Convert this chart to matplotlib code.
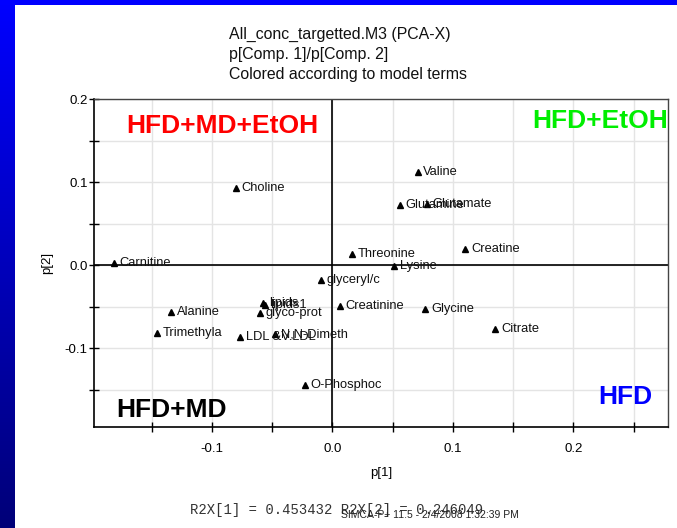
import numpy as np
import matplotlib
matplotlib.use("Agg")
import matplotlib.pyplot as plt

plt.rcParams['font.family'] = ['Liberation Sans', 'DejaVu Sans']

# ---- data ----
names = ["Carnitine", "Choline", "Valine", "Glutamine", "Glutamate", "Creatine",
         "Threonine", "Lysine", "glyceryl/c", "lipids", "lipids1", "glyco-prot",
         "Alanine", "Trimethyla", "LDL &V.LDL", "N,N-Dimeth", "O-Phosphoc",
         "Creatinine", "Glycine", "Citrate"]
p1 = [-0.1817, -0.0799, 0.0709, 0.0562, 0.0783, 0.1104,
      0.0161, 0.0512, -0.0094, -0.0573, -0.0563, -0.0600,
      -0.1341, -0.1457, -0.0768, -0.0476, -0.0227,
      0.0064, 0.0772, 0.1353]
p2 = [0.0024, 0.0935, 0.1124, 0.0727, 0.0742, 0.0200,
      0.0133, -0.0005, -0.0181, -0.0460, -0.0484, -0.0575,
      -0.0563, -0.0819, -0.0867, -0.0831, -0.1446,
      -0.0490, -0.0530, -0.0767]
major_ticks = [-0.1, 0.0, 0.1, 0.2]
title_lines = ["All_conc_targetted.M3 (PCA-X)", "p[Comp. 1]/p[Comp. 2]",
               "Colored according to model terms"]
groups = ["HFD+MD+EtOH", "HFD+EtOH", "HFD+MD", "HFD"]
group_colors = ["#ff0000", "#00ee00", "#000000", "#0000ff"]

W, H = 677, 528
fig = plt.figure(figsize=(W / 100, H / 100), dpi=100)
fig.patch.set_facecolor("white")

# blue frame: left gradient strip and top strip
bax = fig.add_axes([0, 0, 15 / W, 1])
grad = np.linspace(0, 1, 256).reshape(-1, 1)
cmap = matplotlib.colors.LinearSegmentedColormap.from_list("b", ["#0000ff", "#000078"])
bax.imshow(grad, aspect="auto", cmap=cmap, extent=[0, 1, 1, 0])
bax.set_axis_off()
tax = fig.add_axes([0, 1 - 5 / H, 1, 5 / H])
tax.set_facecolor("#0000ff")
tax.set_xticks([]); tax.set_yticks([])
for s in tax.spines.values():
    s.set_visible(False)

# main axes
L, R, T, B = 94, 668, 99, 427
ax = fig.add_axes([L / W, 1 - B / H, (R - L) / W, (B - T) / H])
ax.set_xlim(-0.198, 0.2786)
ax.set_ylim(-0.1946, 0.2)

ax.set_xticks(major_ticks)
ax.set_xticklabels([f"{v:.1f}" for v in major_ticks])
ax.set_yticks(major_ticks)
ax.set_yticklabels([f"{v:.1f}" for v in major_ticks])
ax.set_xticks([-0.15, -0.05, 0.05, 0.15, 0.25], minor=True)
ax.set_yticks([-0.15, -0.05, 0.05, 0.15], minor=True)
ax.tick_params(which="both", direction="inout", length=7, width=1, labelsize=9.5,
               top=False, right=False, color="black")
ax.tick_params(axis="x", pad=8)
ax.tick_params(axis="y", pad=1)
ax.grid(True, which="both", color="#e4e4e4", linewidth=1)
ax.set_axisbelow(True)
for side in ["left", "bottom"]:
    ax.spines[side].set_color("black")
    ax.spines[side].set_linewidth(1.2)
for side in ["top", "right"]:
    ax.spines[side].set_color("#444444")
    ax.spines[side].set_linewidth(1.0)

ax.axhline(0, color="black", lw=1.2, zorder=2)
ax.axvline(0, color="black", lw=1.2, zorder=2)

ax.plot(p1, p2, linestyle="none", marker="^", markersize=5, color="black", zorder=3)
for n, x, y in zip(names, p1, p2):
    ax.annotate(n, (x, y), xytext=(4, 0), textcoords="offset points",
                ha="left", va="center", fontsize=9.3, color="#111111", zorder=4)

ax.set_xlabel("p[1]", fontsize=9.5, labelpad=9)
ax.set_ylabel("p[2]", fontsize=9.5, labelpad=8)

# quadrant labels
ax.text(0.0557, 0.9186, groups[0], transform=ax.transAxes, ha="left", va="center",
        fontsize=19, fontweight="bold", color=group_colors[0])
ax.text(1.0, 0.9338, groups[1], transform=ax.transAxes, ha="right", va="center",
        fontsize=19, fontweight="bold", color=group_colors[1])
ax.text(0.0395, 0.0518, groups[2], transform=ax.transAxes, ha="left", va="center",
        fontsize=19, fontweight="bold", color=group_colors[2])
ax.text(0.9728, 0.0924, groups[3], transform=ax.transAxes, ha="right", va="center",
        fontsize=19, fontweight="bold", color=group_colors[3])

# title lines
for i, line in enumerate(title_lines):
    fig.text(229 / W, 1 - (34 + 20 * i) / H, line, ha="left", va="center",
             fontsize=11.4, color="#111111")

# footer
fig.text(190 / W, 1 - 510 / H, "R2X[1] = 0.453432 R2X[2] = 0.246049",
         family="Liberation Mono", fontsize=10, ha="left", va="center", color="#333333")
fig.text(341 / W, 1 - 515 / H, "SIMCA-P+ 11.5 - 2/4/2008 1:32:39 PM",
         fontsize=7.5, ha="left", va="center", color="#222222")

fig.savefig("out.png", dpi=100)
